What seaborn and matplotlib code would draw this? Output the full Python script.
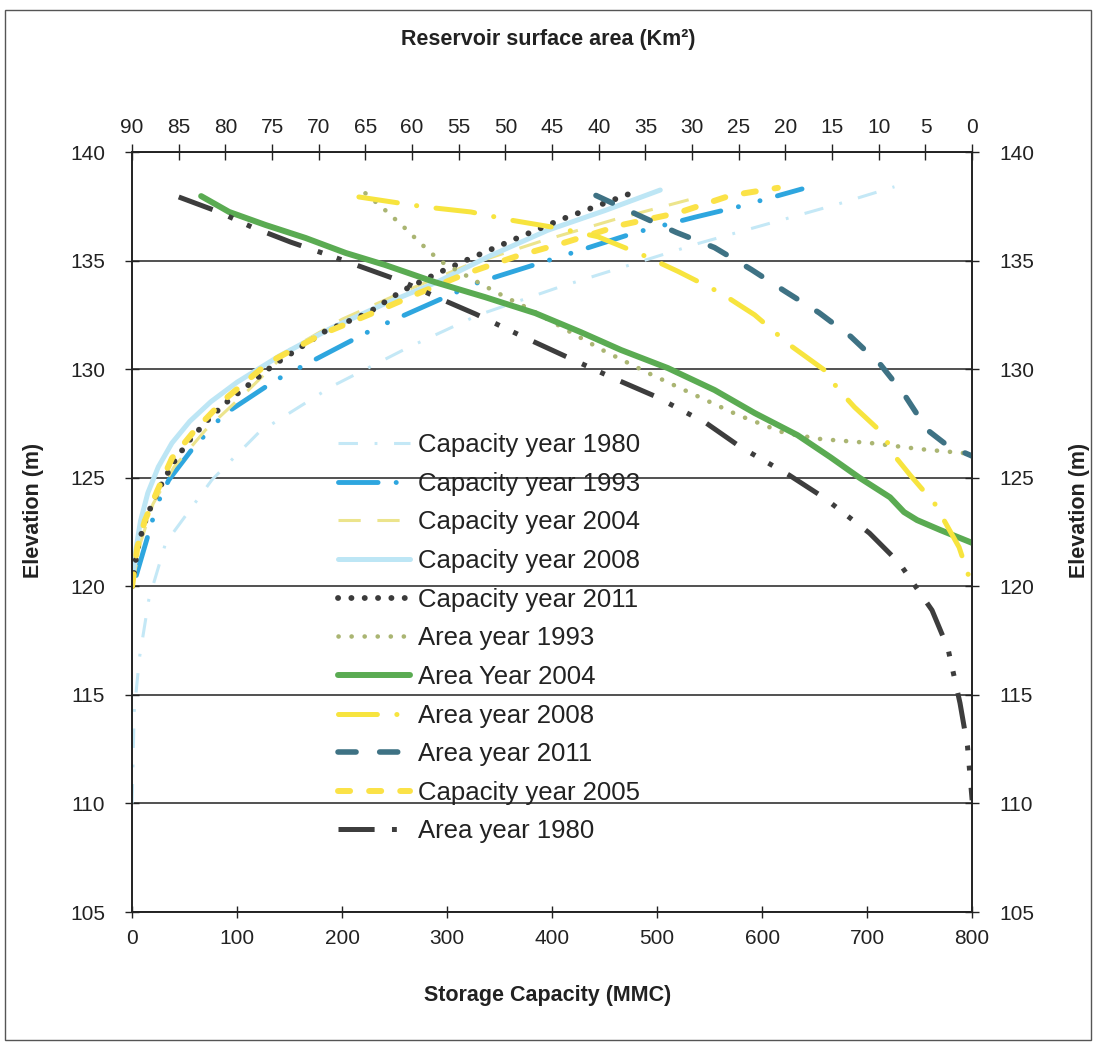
import numpy as np
import pandas as pd
import seaborn as sns
import matplotlib.pyplot as plt
from matplotlib.patches import Rectangle

# %%
# storage capacity (MMC) vs elevation (m)
cap80_x = [0, 2, 7, 16, 32, 76, 121, 190, 263, 330, 408, 540, 672, 726]
cap80_y = [110, 114.2, 116.7, 119.4, 122, 124.9, 127.1, 129.2, 131, 132.5, 133.8, 135.8, 137.6, 138.4]

cap93_x = [4, 24, 35, 57, 87, 137, 232, 330, 409, 480, 536, 579, 638]
cap93_y = [120.5, 123.8, 124.9, 126.3, 127.9, 129.5, 131.9, 134, 135.2, 136.3, 137, 137.5, 138.3]

cap04_x = [0, 8, 20, 40, 70, 110, 150, 200, 260, 320, 390, 460, 530]
cap04_y = [120, 122, 123.8, 125.5, 127.2, 129, 130.9, 132.3, 133.6, 134.8, 135.9, 136.9, 137.8]

cap08_x = [0, 3, 8, 15, 25, 38, 55, 75, 100, 140, 190, 240, 290, 340, 396, 450, 503]
cap08_y = [120, 121.5, 123, 124.3, 125.5, 126.6, 127.6, 128.5, 129.4, 130.6, 131.9, 133, 134, 135.2, 136.4, 137.3, 138.25]

cap11_x = [0, 5, 11, 19, 29, 42, 56, 71, 88, 135, 184, 225, 257, 290, 322, 365, 409, 475]
cap11_y = [120, 121.7, 122.8, 123.8, 124.8, 125.9, 126.8, 127.6, 128.4, 130.2, 131.75, 132.6, 133.6, 134.4, 135.1, 136, 136.9, 138.1]

cap05_x = [0, 5, 12, 24, 38, 60, 88, 130, 180, 230, 273, 318, 366, 410, 467, 520, 570, 615]
cap05_y = [120, 121.8, 123, 124.4, 125.9, 127.2, 128.6, 130.3, 131.6, 132.6, 133.5, 134.4, 135.2, 135.8, 136.65, 137.2, 138.0, 138.35]

# surface area (km2) vs elevation (m)
area80_x = [85.0, 80.7, 77.2, 73.0, 69.0, 65.1, 60.9, 57.4, 53.2, 47.8, 43.6, 38.2, 34.0, 28.5, 24.8,
            19.6, 15.8, 11.0, 7.8, 4.3, 2.6, 1.3, 0.5, 0]
area80_y = [137.93, 137.24, 136.55, 135.85, 135.26, 134.66, 134.01, 133.32, 132.54, 131.43, 130.6, 129.54,
            128.76, 127.52, 126.41, 125.12, 124.06, 122.45, 121.07, 118.9, 117.15, 114.62, 112.64, 110.15]

area93_x = [65.0, 62.9, 60.9, 59.0, 57.0, 54.7, 52.4, 50.0, 47.6, 44.0, 39.6, 34.7, 29.9, 25.1, 20.1,
            16.2, 10.9, 5.6, 0]
area93_y = [138.1, 137.33, 136.55, 135.76, 134.98, 134.43, 133.87, 133.32, 132.81, 131.94, 130.88, 129.82,
            128.85, 127.89, 127.06, 126.78, 126.6, 126.32, 126.1]

area04_x = [82.6, 79.6, 75.7, 71.4, 67.1, 62.9, 57.5, 52.2, 46.8, 41.9, 37.6, 32.6, 27.6, 23.3, 18.7,
            15.2, 12.0, 8.8, 7.3, 5.9, 3.4, 0]
area04_y = [137.97, 137.24, 136.64, 136.04, 135.35, 134.8, 134.0, 133.32, 132.58, 131.7, 130.88, 130.05,
            129.04, 127.98, 126.96, 125.95, 124.98, 124.1, 123.42, 123.05, 122.59, 122.0]

area08_x = [65.7, 58.6, 53.7, 49.5, 44.4, 40.1, 35.3, 31.5, 29.2, 26.9, 23.3, 21.4, 19.5, 15.8, 14.4,
            12.6, 9.6, 8.3, 6.6, 4.0, 2.7, 1.4, 0]
area08_y = [137.93, 137.47, 137.24, 136.87, 136.5, 136.1, 135.26, 134.5, 134.0, 133.5, 132.5, 131.8,
            131.1, 129.95, 129.1, 128.25, 127.05, 126.0, 125.1, 123.8, 122.8, 121.8, 120]

area11_x = [40.3, 35.8, 31.7, 27.6, 23.7, 20.1, 16.4, 13.0, 9.8, 7.3, 4.8, 2.7, 0]
area11_y = [138.0, 137.1, 136.3, 135.6, 134.6, 133.6, 132.6, 131.5, 130.2, 128.85, 127.2, 126.5, 126.0]

cap_ticks = [0, 100, 200, 300, 400, 500, 600, 700, 800]
area_ticks = list(range(90, -1, -5))
elev_ticks = [105, 110, 115, 120, 125, 130, 135, 140]

# %%
sns.set_theme(style='white')
plt.rcParams['font.family'] = ['Liberation Sans', 'DejaVu Sans']
plt.rcParams['lines.scale_dashes'] = False

fig = plt.figure(figsize=(10.96, 10.47), dpi=100)
ax = fig.add_axes([0.1205, 0.1289, 0.7665, 0.7259])
ax2 = ax.twiny()

# capacity curves on the bottom axis
cap_series = [
    ('Capacity year 1980', cap80_x, cap80_y, '#c4e8f6', 2.2, (0, (14, 12, 2, 12)), 'butt'),
    ('Capacity year 1993', cap93_x, cap93_y, '#2ea6df', 3.5, (0, (28.5, 13, 0.1, 16, 0.1, 13)), 'round'),
    ('Capacity year 2004', cap04_x, cap04_y, '#ece48c', 2.2, (0, (16, 12)), 'butt'),
    ('Capacity year 2008', cap08_x, cap08_y, '#bde6f5', 3.6, '-', 'round'),
    ('Capacity year 2011', cap11_x, cap11_y, '#3b3b3b', 4.2, (0, (0.1, 9.5)), 'round'),
    ('Capacity year 2005', cap05_x, cap05_y, '#fbe247', 4.3, (0, (8.7, 13.7)), 'round'),
]
area_series = [
    ('Area year 1993', area93_x, area93_y, '#aab572', 3.3, (0, (0.1, 9.3)), 'round'),
    ('Area Year 2004', area04_x, area04_y, '#5aab52', 4.3, '-', 'round'),
    ('Area year 2008', area08_x, area08_y, '#f7e43e', 3.6, (0, (28, 14, 0.1, 14)), 'round'),
    ('Area year 2011', area11_x, area11_y, '#3e7284', 4.0, (0, (13, 17)), 'round'),
    ('Area year 1980', area80_x, area80_y, '#3d3d3d', 3.6, (0, (26, 12.5, 3.5, 11, 3.5, 12.5)), 'butt'),
]

for name, xs, ys, col, lw, ls, cap in cap_series:
    df = pd.DataFrame({'x': xs, 'y': ys})
    sns.lineplot(data=df, x='x', y='y', ax=ax, sort=False, estimator=None, color=col,
                 linewidth=lw, linestyle=ls, dash_capstyle=cap, solid_capstyle=cap, label=name)

for name, xs, ys, col, lw, ls, cap in area_series:
    df = pd.DataFrame({'x': xs, 'y': ys})
    sns.lineplot(data=df, x='x', y='y', ax=ax2, sort=False, estimator=None, color=col,
                 linewidth=lw, linestyle=ls, dash_capstyle=cap, solid_capstyle=cap, label=name)

for a in (ax, ax2):
    if a.get_legend() is not None:
        a.get_legend().remove()

ax.set_xlim(0, 800)
ax.set_ylim(105, 140)
ax2.set_xlim(90, 0)
ax.set_xticks(cap_ticks)
ax.set_yticks(elev_ticks)
ax2.set_xticks(area_ticks)

ax.yaxis.grid(True, color='#222222', linewidth=1.1)
ax.xaxis.grid(False)
ax2.grid(False)
for a in (ax, ax2):
    for sp in a.spines.values():
        sp.set_color('#222222')
        sp.set_linewidth(1.2)

ax.tick_params(axis='x', bottom=True, direction='inout', length=8, width=1, colors='#222222',
               labelsize=15, pad=8, labelcolor='#222222')
ax.tick_params(axis='y', left=True, right=True, labelright=True, direction='inout', length=10,
               width=1, colors='#222222', labelsize=15, pad=14.5, labelcolor='#222222')
ax2.tick_params(axis='x', top=True, direction='inout', length=11, width=1, colors='#222222',
                labelsize=15, pad=5, labelcolor='#222222')

ax.set_xlabel('')
ax.set_ylabel('')
ax2.set_xlabel('')
ax2.set_ylabel('')

fig.text(0.5, 1 - 995 / 1047, 'Storage Capacity (MMC)', ha='center', va='center',
         fontsize=15.5, fontweight='bold', color='#222222')
fig.text(0.5, 1 - 39 / 1047, 'Reservoir surface area (Km²)', ha='center', va='center',
         fontsize=15.5, fontweight='bold', color='#222222')
fig.text(33 / 1096, 1 - 510 / 1047, 'Elevation (m)', ha='center', va='center', rotation=90,
         fontsize=15.5, fontweight='bold', color='#222222')
fig.text(1080 / 1096, 1 - 510 / 1047, 'Elevation (m)', ha='center', va='center', rotation=90,
         fontsize=15.5, fontweight='bold', color='#222222')

# legend in the original order
h1, l1 = ax.get_legend_handles_labels()
h2, l2 = ax2.get_legend_handles_labels()
lookup = dict(zip(l1 + l2, h1 + h2))
order = ['Capacity year 1980', 'Capacity year 1993', 'Capacity year 2004', 'Capacity year 2008',
         'Capacity year 2011', 'Area year 1993', 'Area Year 2004', 'Area year 2008',
         'Area year 2011', 'Capacity year 2005', 'Area year 1980']
ax2.legend([lookup[k] for k in order], order, loc='upper left',
           bbox_to_anchor=(338 / 1096, 1 - 433 / 1047), bbox_transform=fig.transFigure,
           frameon=False, fontsize=18.5, handlelength=2.8, handletextpad=0.3,
           labelspacing=0.57, borderpad=0, borderaxespad=0, labelcolor='#222222')

fig.patches.append(Rectangle((5 / 1096, 7 / 1047), 1086 / 1096, 1030 / 1047, fill=False,
                             edgecolor='#555555', linewidth=1, transform=fig.transFigure))

fig.savefig('out.png', dpi=100)
